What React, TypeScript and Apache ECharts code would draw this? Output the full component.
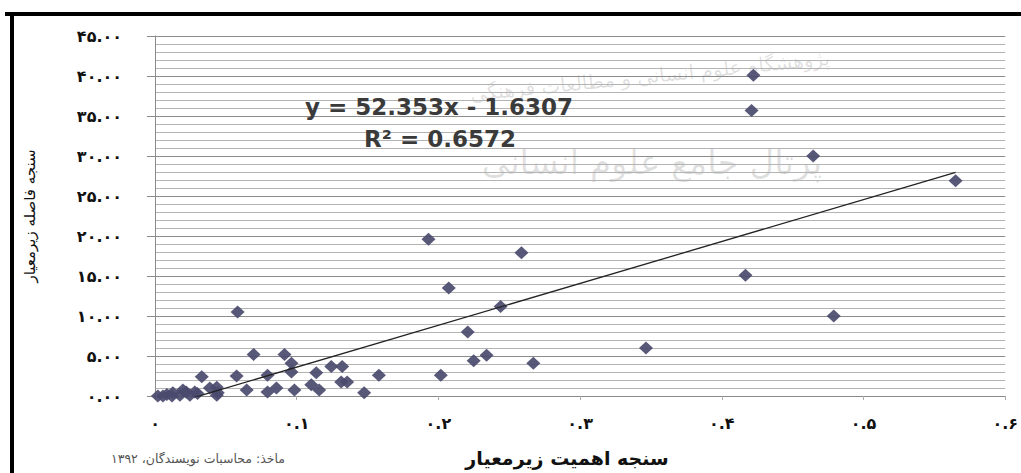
import React, { useEffect, useRef } from "react";
import * as echarts from "echarts";

// Scatter points: sub-criterion importance (x) vs sub-criterion distance (y)
const xValues: number[] = [
  0.4223, 0.421, 0.4645, 0.565, 0.193, 0.2586, 0.2073, 0.2439, 0.4167, 0.479,
  0.0583, 0.2207, 0.3465, 0.267, 0.234, 0.2249, 0.2017, 0.158,
  0.033, 0.0576, 0.0696, 0.0914, 0.0963, 0.0963, 0.0794, 0.1138, 0.1244, 0.1321,
  0.1314, 0.1356, 0.1476, 0.0647, 0.0794, 0.0857, 0.0984, 0.1103, 0.1159, 0.0436,
  0.0436, 0.0387, 0.0443, 0.0281, 0.0246, 0.0197, 0.0126, 0.0084, 0.002, 0.0056,
  0.012, 0.0176, 0.03, 0.022,
];
const yValues: number[] = [
  40.1, 35.7, 30.0, 26.9, 19.6, 17.9, 13.5, 11.2, 15.1, 10.0,
  10.5, 8.0, 6.0, 4.1, 5.1, 4.4, 2.6, 2.6,
  2.4, 2.5, 5.2, 5.2, 4.1, 3.0, 2.6, 2.9, 3.7, 3.7,
  1.75, 1.75, 0.4, 0.75, 0.5, 1.0, 0.75, 1.4, 0.75, 1.1,
  0.1, 1.0, 0.4, 0.5, 0.1, 0.75, 0.4, 0.2, 0.0, 0.0,
  0.0, 0.1, 0.3, 0.5,
];

// Trendline shown on the chart: y = 52.353x - 1.6307, R² = 0.6572
const trendSlope = 52.353;
const trendIntercept = -1.6307;
const equationText = "y = 52.353x - 1.6307";
const rSquaredText = "R\u00B2 = 0.6572";

const xTickLabels: string[] = ["۰", "۰.۱", "۰.۲", "۰.۳", "۰.۴", "۰.۵", "۰.۶"];
const yTickLabels: string[] = [
  "۰.۰۰", "۵.۰۰", "۱۰.۰۰", "۱۵.۰۰", "۲۰.۰۰", "۲۵.۰۰", "۳۰.۰۰", "۳۵.۰۰", "۴۰.۰۰", "۴۵.۰۰",
];

const xAxisTitle = "سنجه اهمیت زیرمعیار";
const yAxisTitle = "سنجه فاصله زیرمعیار";
const sourceNote = "ماخذ: محاسبات نویسندگان، ۱۳۹۲";
const watermark1 = "پژوهشگاه علوم انسانی و مطالعات فرهنگی";
const watermark2 = "پرتال جامع علوم انسانی";

export default function App() {
  const ref = useRef<HTMLDivElement>(null);
  useEffect(() => {
    if (!ref.current) return;
    const chart = echarts.init(ref.current, undefined, { renderer: "svg" });
    const points = xValues.map((x, i) => [x, yValues[i]]);
    const xMin = Math.min(...xValues);
    const xMax = Math.max(...xValues);
    const trend = [
      [xMin, trendSlope * xMin + trendIntercept],
      [xMax, trendSlope * xMax + trendIntercept],
    ];
    chart.setOption({
      animation: false,
      backgroundColor: "#ffffff",
      grid: { left: 155, top: 36, right: 11, bottom: 77, containLabel: false },
      xAxis: {
        type: "value",
        min: 0,
        max: 0.6,
        interval: 0.1,
        axisLine: { show: true, lineStyle: { color: "#8a8a8a", width: 1.2 } },
        axisTick: { show: true, inside: false, length: 4, lineStyle: { color: "#aaaaaa" } },
        splitLine: { show: false },
        axisLabel: {
          margin: 19,
          color: "#111",
          fontSize: 16,
          fontWeight: "bold",
          fontFamily: "DejaVu Sans",
          formatter: (v: number) => xTickLabels[Math.round(v * 10)] ?? "",
        },
      },
      yAxis: {
        type: "value",
        min: 0,
        max: 45,
        interval: 5,
        axisLine: { show: true, lineStyle: { color: "#8a8a8a", width: 1 } },
        axisTick: { show: true, inside: false, length: 8, lineStyle: { color: "#8a8a8a" } },
        splitLine: { show: true, lineStyle: { color: "#8c8c8c", width: 1 } },
        minorTick: { show: false, splitNumber: 5 },
        minorSplitLine: { show: true, lineStyle: { color: "#b4b4b4", width: 1 } },
        axisLabel: {
          margin: 33,
          color: "#111",
          fontSize: 16,
          fontWeight: "bold",
          fontFamily: "DejaVu Sans",
          formatter: (v: number) => yTickLabels[Math.round(v / 5)] ?? "",
        },
      },
      series: [
        {
          type: "line",
          data: trend,
          symbol: "none",
          clip: true,
          lineStyle: { color: "#222222", width: 1.3 },
          silent: true,
          z: 3,
        },
        {
          type: "scatter",
          data: points,
          symbol: "diamond",
          symbolSize: [14, 13],
          itemStyle: { color: "#4a4a6e", opacity: 0.92 },
          z: 2,
        },
      ],
      graphic: [
        // scanned page frame
        { type: "rect", left: 5, top: 12, shape: { width: 1016, height: 4 }, style: { fill: "#000" }, z: 10 },
        { type: "rect", left: 10, top: 12, shape: { width: 4, height: 461 }, style: { fill: "#000" }, z: 10 },
        // faint watermark
        {
          type: "text",
          x: 650,
          y: 76,
          rotation: 0.1,
          style: {
            text: watermark1,
            fill: "rgba(0,0,0,0.13)",
            font: "20px 'DejaVu Sans'",
            align: "center",
            verticalAlign: "middle",
          },
          z: 0,
        },
        {
          type: "text",
          x: 652,
          y: 162,
          style: {
            text: watermark2,
            fill: "rgba(0,0,0,0.12)",
            font: "34px 'DejaVu Sans'",
            align: "center",
            verticalAlign: "middle",
          },
          z: 0,
        },
        // equation
        {
          type: "text",
          x: 439,
          y: 107,
          style: {
            text: equationText,
            fill: "#3a3a3a",
            font: "bold 23px 'DejaVu Sans'",
            align: "center",
            verticalAlign: "middle",
          },
          z: 5,
        },
        {
          type: "text",
          x: 440,
          y: 139,
          style: {
            text: rSquaredText,
            fill: "#3a3a3a",
            font: "bold 23px 'DejaVu Sans'",
            align: "center",
            verticalAlign: "middle",
          },
          z: 5,
        },
        // axis titles
        {
          type: "text",
          x: 567,
          y: 458,
          style: {
            text: xAxisTitle,
            fill: "#111",
            font: "bold 19px 'DejaVu Sans'",
            align: "center",
            verticalAlign: "middle",
          },
        },
        {
          type: "text",
          x: 30,
          y: 216,
          rotation: Math.PI / 2,
          style: {
            text: yAxisTitle,
            fill: "#111",
            font: "15px 'DejaVu Sans'",
            align: "center",
            verticalAlign: "middle",
          },
        },
        {
          type: "text",
          x: 198,
          y: 458,
          style: {
            text: sourceNote,
            fill: "#555",
            font: "12.5px 'DejaVu Sans'",
            align: "center",
            verticalAlign: "middle",
          },
        },
      ],
    });
    return () => chart.dispose();
  }, []);
  return (
    <div
      ref={ref}
      style={{ position: "fixed", left: 0, top: 0, width: 1021, height: 473 }}
    />
  );
}
